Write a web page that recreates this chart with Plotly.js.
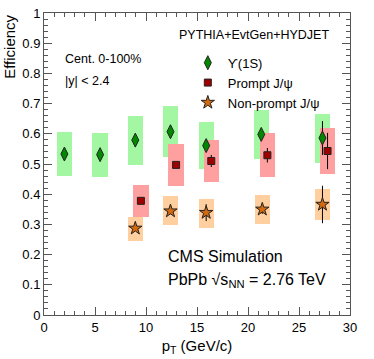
<!DOCTYPE html>
<html>
<head>
<meta charset="utf-8">
<script src="https://cdn.plot.ly/plotly-3.0.1.min.js"></script>
<style>html,body{margin:0;padding:0;background:#fff;}#chart{width:374px;height:359px;}</style>
</head>
<body>
<div id="chart"></div>
<script>
// Upsilon(1S)
var ptUps   = [2.0, 5.5, 8.95, 12.4, 15.9, 21.3, 27.3];
var effUps  = [0.533, 0.531, 0.579, 0.607, 0.561, 0.598, 0.586];
var statUps = [0.006, 0.006, 0.008, 0.012, 0.015, 0.018, 0.056];
var sysLoUps = [0.460, 0.458, 0.498, 0.524, 0.483, 0.515, 0.504];
var sysHiUps = [0.606, 0.604, 0.659, 0.691, 0.638, 0.679, 0.666];

// prompt J/psi
var ptPr   = [9.5, 12.95, 16.4, 21.9, 27.8];
var effPr  = [0.378, 0.497, 0.510, 0.529, 0.543];
var statPr = [0.006, 0.008, 0.02, 0.024, 0.06];
var sysLoPr = [0.325, 0.428, 0.439, 0.456, 0.466];
var sysHiPr = [0.430, 0.565, 0.579, 0.602, 0.618];

// non-prompt J/psi
var ptNp   = [8.95, 12.4, 15.9, 21.4, 27.3];
var effNp  = [0.287, 0.344, 0.339, 0.350, 0.366];
var statNp = [0.006, 0.01, 0.028, 0.015, 0.062];
var sysLoNp = [0.246, 0.297, 0.289, 0.300, 0.315];
var sysHiNp = [0.325, 0.394, 0.385, 0.397, 0.417];

var boxW = 1.5;
var FONT = "Liberation Sans, Arial, Helvetica, sans-serif";

function sysBox(x, lo, hi, color) {
  return {
    type: "bar", x: x, base: lo,
    y: hi.map(function(h, i){ return h - lo[i]; }),
    width: x.map(function(){ return boxW; }),
    marker: {color: color, line: {width: 0}},
    showlegend: false, hoverinfo: "skip"
  };
}
function pts(x, y, e, name, sym, size, color) {
  return {
    type: "scatter", mode: "markers", x: x, y: y, name: name,
    error_y: {type: "data", array: e, visible: true, color: "#000", thickness: 1, width: 0},
    marker: {symbol: sym, size: size, color: color, line: {color: "#222", width: 1}}
  };
}

var data = [
  sysBox(ptUps, sysLoUps, sysHiUps, "#a3f7a3"),
  sysBox(ptPr, sysLoPr, sysHiPr, "#ffa0a0"),
  sysBox(ptNp, sysLoNp, sysHiNp, "#ffcf9f"),
  pts(ptUps, effUps, statUps, "ϒ(1S)", "diamond-tall", 10, "#008800"),
  pts(ptPr, effPr, statPr, "Prompt J/ψ", "square", 7, "#a00000"),
  pts(ptNp, effNp, statNp, "Non-prompt J/ψ", "star", 10, "#d36a10")
];

var axisCommon = {
  showline: true, linecolor: "#555", linewidth: 1, mirror: "ticks",
  ticks: "inside", ticklen: 8, tickcolor: "#555",
  showgrid: false, zeroline: false,
  tickfont: {family: FONT, size: 13, color: "#000"}
};

var layout = {
  width: 374, height: 359,
  margin: {l: 44, r: 24, t: 13, b: 44},
  paper_bgcolor: "#fff", plot_bgcolor: "#fff",
  font: {family: FONT, color: "#000"},
  barmode: "overlay", bargap: 0,
  xaxis: Object.assign({}, axisCommon, {
    range: [0, 30], dtick: 5, tick0: 0,
    minor: {ticks: "inside", ticklen: 4, dtick: 1, tickcolor: "#555", showgrid: false},
    title: {text: "p<sub>T</sub> (GeV/c)", font: {family: FONT, size: 15}, standoff: 6}
  }),
  yaxis: Object.assign({}, axisCommon, {
    range: [0, 1], dtick: 0.1, tick0: 0,
    minor: {ticks: "inside", ticklen: 4, dtick: 0.02, tickcolor: "#555", showgrid: false}
  }),
  legend: {
    x: 0.47, y: 0.885, xanchor: "left", yanchor: "top",
    bgcolor: "rgba(0,0,0,0)", font: {family: FONT, size: 13},
    itemwidth: 30, tracegroupgap: 0
  },
  annotations: [
    {text: "Efficiency", xref: "paper", yref: "paper", x: -0.115, y: 1, xanchor: "center", yanchor: "top",
     textangle: -90, showarrow: false, font: {size: 15}},
    {text: "PYTHIA+EvtGen+HYDJET", xref: "paper", yref: "paper", x: 0.435, y: 0.927, xanchor: "left", yanchor: "middle",
     showarrow: false, font: {size: 12.5}},
    {text: "Cent. 0-100%", xref: "paper", yref: "paper", x: 0.062, y: 0.849, xanchor: "left", yanchor: "middle",
     showarrow: false, font: {size: 12.5}},
    {text: "|y| < 2.4", xref: "paper", yref: "paper", x: 0.062, y: 0.775, xanchor: "left", yanchor: "middle",
     showarrow: false, font: {size: 12.5}},
    {text: "CMS Simulation", xref: "paper", yref: "paper", x: 0.4, y: 0.193, xanchor: "left", yanchor: "middle",
     showarrow: false, font: {size: 16}},
    {text: "PbPb √s<sub>NN</sub> = 2.76 TeV", xref: "paper", yref: "paper", x: 0.4, y: 0.115, xanchor: "left", yanchor: "middle",
     showarrow: false, font: {size: 16}}
  ]
};

Plotly.newPlot("chart", data, layout, {staticPlot: true, displayModeBar: false});
</script>
</body>
</html>
